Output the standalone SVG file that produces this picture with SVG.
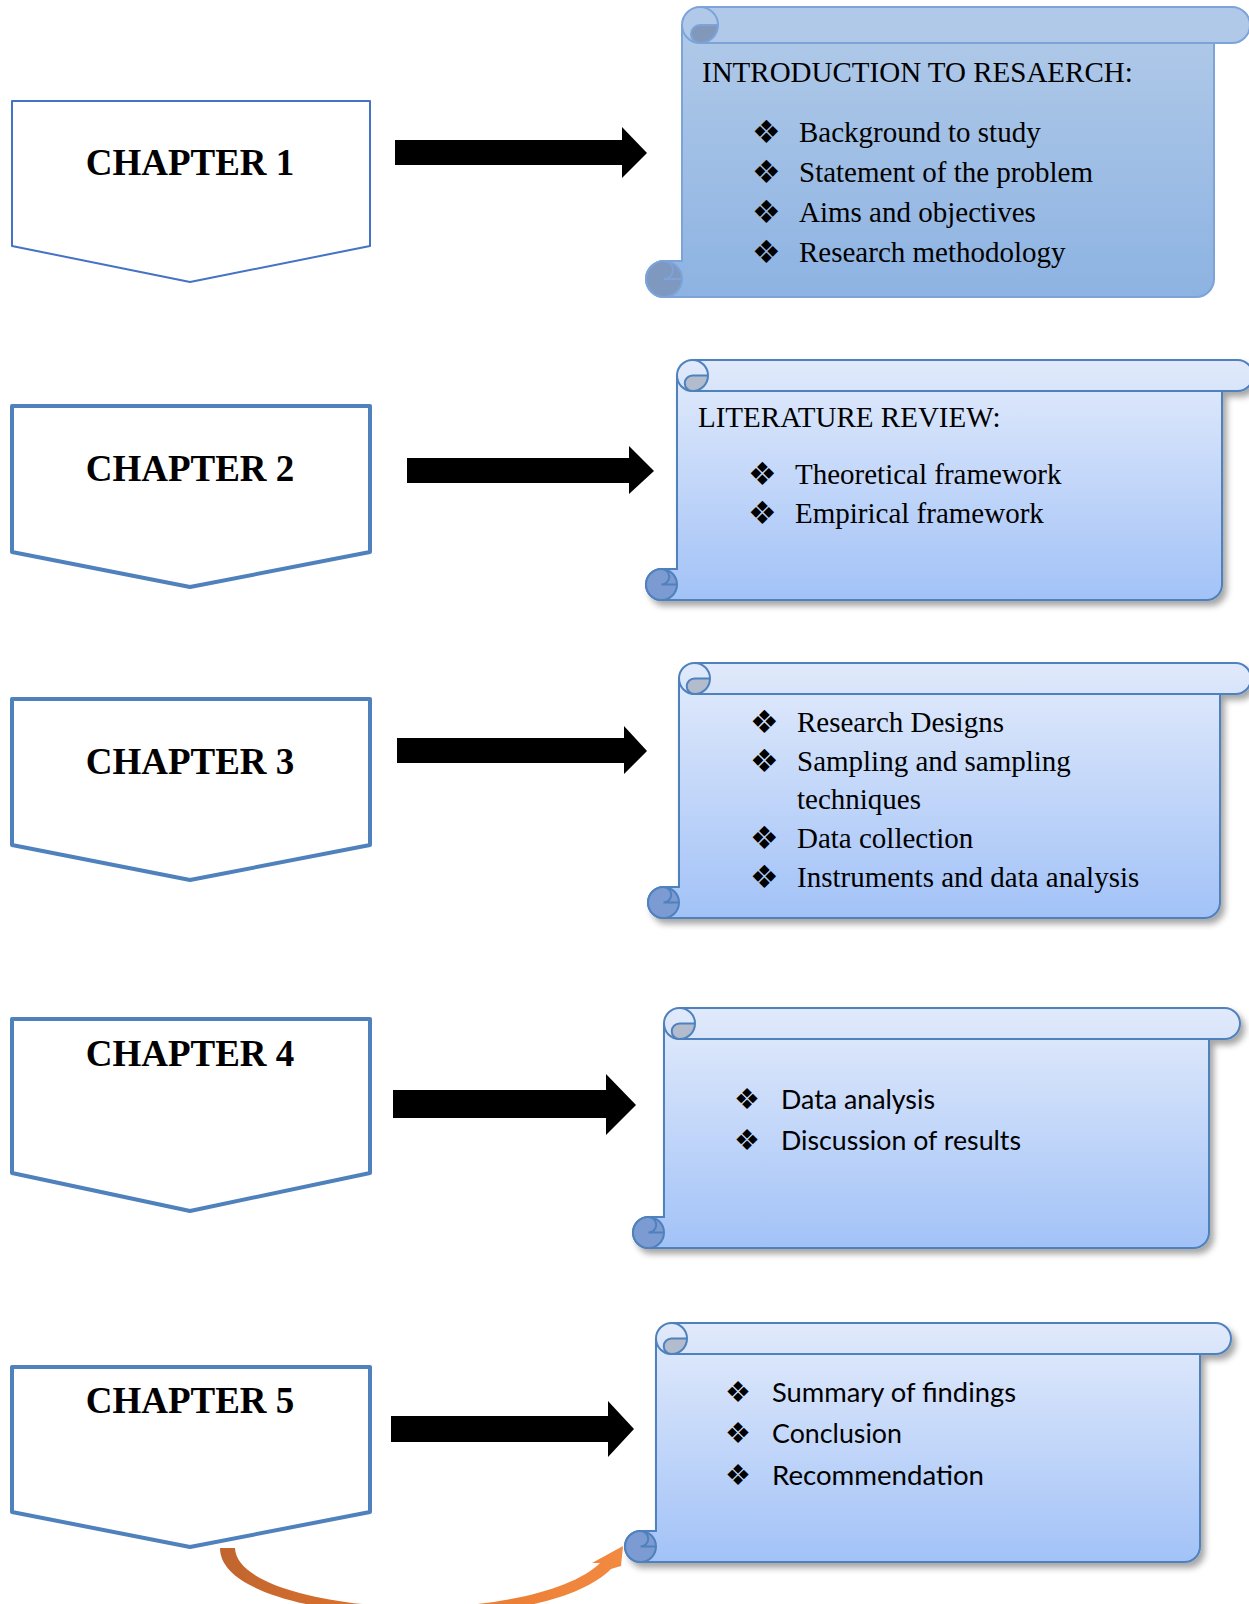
<svg xmlns="http://www.w3.org/2000/svg" width="1249" height="1604" viewBox="0 0 1249 1604">
<defs>
<style>
.ch{fill:#fff;stroke:#4F81BD;stroke-width:4;stroke-linejoin:round}
.cht{font-family:"Liberation Serif","Times New Roman",serif;font-weight:bold;font-size:37px;fill:#000;text-anchor:middle}
.st{font-family:"Liberation Serif","Times New Roman",serif;font-size:29px;fill:#000}
.ct{font-family:Lato,"Open Sans",sans-serif;font-size:26.5px;fill:#000}
.bl{font-family:"DejaVu Sans",sans-serif;font-size:32px;fill:#000}
.arr{fill:#000}
.body{fill:url(#gBody);stroke:#4F81BD;stroke-width:2}
.roll{fill:url(#gRoll);stroke:#4F81BD;stroke-width:2}
.broll{fill:#7C9BD2;stroke:#4F81BD;stroke-width:2}
.curlf{fill:#B3BCCC;stroke:none}
.curl{fill:none;stroke:#4F81BD;stroke-width:2}
.body1{fill:url(#gBody1);stroke:#7DA3D9;stroke-width:2}
.roll1{fill:#B1C9E8;stroke:#7DA3D9;stroke-width:2}
.broll1{fill:#7E98C0;stroke:#7DA3D9;stroke-width:2}
.curlf1{fill:#8298BA;stroke:none}
.curl1{fill:none;stroke:#7DA3D9;stroke-width:2}
</style>
<linearGradient id="gBody" x1="0" y1="0" x2="0" y2="1">
<stop offset="0" stop-color="#DFE9FB"/>
<stop offset="1" stop-color="#A2C2F7"/>
</linearGradient>
<linearGradient id="gRoll" x1="0" y1="0" x2="0" y2="1">
<stop offset="0" stop-color="#E1EAFB"/>
<stop offset="1" stop-color="#D8E4FA"/>
</linearGradient>
<linearGradient id="gBody1" x1="0" y1="0" x2="0" y2="1">
<stop offset="0" stop-color="#B0C9E8"/>
<stop offset="1" stop-color="#8DB3E2"/>
</linearGradient>
<linearGradient id="gOrange" gradientUnits="userSpaceOnUse" x1="220" y1="0" x2="623" y2="0">
<stop offset="0" stop-color="#C0652F"/>
<stop offset="0.5" stop-color="#E6762C"/>
<stop offset="1" stop-color="#F38A42"/>
</linearGradient>
<filter id="sh" x="-5%" y="-5%" width="115%" height="120%">
<feDropShadow dx="4" dy="5" stdDeviation="3" flood-color="#000" flood-opacity="0.35"/>
</filter>
</defs>
<rect width="1249" height="1604" fill="#fff"/>

<g id="chapter1">
<polygon points="12,101 370,101 370,246 190,282 12,246" class="ch" style="stroke:#4472C4;stroke-width:2"/>
<text x="190" y="175" class="cht">CHAPTER 1</text>
</g>
<g id="chapter2">
<polygon points="12,406 370,406 370,552 190,587 12,552" class="ch"/>
<text x="190" y="481" class="cht">CHAPTER 2</text>
</g>
<g id="chapter3">
<polygon points="12,699 370,699 370,845 190,880 12,845" class="ch"/>
<text x="190" y="774" class="cht">CHAPTER 3</text>
</g>
<g id="chapter4">
<polygon points="12,1019 370,1019 370,1173 190,1211 12,1173" class="ch"/>
<text x="190" y="1066" class="cht">CHAPTER 4</text>
</g>
<g id="chapter5">
<polygon points="12,1367 370,1367 370,1512 190,1547 12,1512" class="ch"/>
<text x="190" y="1413" class="cht">CHAPTER 5</text>
</g>

<g id="scroll1">
<path class="body1" d="M 682 25 L 1214 25 L 1214 279 A 18 18 0 0 1 1196 297 L 664 297 A 18 18 0 0 1 664 261 L 682 261 Z"/>
<path class="roll1" d="M 700 7 L 1232 7 A 18 18 0 0 1 1232 43 L 700 43 A 18 18 0 0 1 700 7 Z"/>
<path class="curlf1" d="M 718 25 A 18 18 0 0 1 700 43 A 9 9 0 0 1 700 25 Z"/>
<path class="curl1" d="M 700 7 A 18 18 0 0 1 718 25 A 18 18 0 0 1 700 43 A 9 9 0 0 1 700 25 L 718 25"/>
<circle class="broll1" cx="664" cy="279" r="18"/>
<path class="curl1" d="M 664 261 A 9 9 0 0 1 664 279 L 682 279"/>
<text x="702" y="82" class="st">INTRODUCTION TO RESAERCH:</text>
<text x="752" y="143" class="bl">❖</text><text x="799" y="142" class="st">Background to study</text>
<text x="752" y="183" class="bl">❖</text><text x="799" y="182" class="st">Statement of the problem</text>
<text x="752" y="223" class="bl">❖</text><text x="799" y="222" class="st">Aims and objectives</text>
<text x="752" y="263" class="bl">❖</text><text x="799" y="262" class="st">Research methodology</text>
</g>

<g id="scroll2">
<g filter="url(#sh)">
<path class="body" d="M 677 375.5 L 1222 375.5 L 1222 584.5 A 15.5 15.5 0 0 1 1206.5 600 L 661.5 600 A 15.5 15.5 0 0 1 661.5 569 L 677 569 Z"/>
<path class="roll" d="M 692.5 360 L 1237.5 360 A 15.5 15.5 0 0 1 1237.5 391 L 692.5 391 A 15.5 15.5 0 0 1 692.5 360 Z"/>
<circle class="broll" cx="661.5" cy="584.5" r="15.5"/>
</g>
<path class="curlf" d="M 708 375.5 A 15.5 15.5 0 0 1 692.5 391 A 7.75 7.75 0 0 1 692.5 375.5 Z"/>
<path class="curl" d="M 692.5 360 A 15.5 15.5 0 0 1 708 375.5 A 15.5 15.5 0 0 1 692.5 391 A 7.75 7.75 0 0 1 692.5 375.5 L 708 375.5"/>
<path class="curl" d="M 661.5 569 A 7.75 7.75 0 0 1 661.5 584.5 L 677 584.5"/>
<text x="698" y="427" class="st">LITERATURE REVIEW:</text>
<text x="748" y="485" class="bl">❖</text><text x="795" y="484" class="st">Theoretical framework</text>
<text x="748" y="524" class="bl">❖</text><text x="795" y="523" class="st">Empirical framework</text>
</g>

<g id="scroll3">
<g filter="url(#sh)">
<path class="body" d="M 679 678.5 L 1220 678.5 L 1220 902.5 A 15.5 15.5 0 0 1 1204.5 918 L 663.5 918 A 15.5 15.5 0 0 1 663.5 887 L 679 887 Z"/>
<path class="roll" d="M 694.5 663 L 1235.5 663 A 15.5 15.5 0 0 1 1235.5 694 L 694.5 694 A 15.5 15.5 0 0 1 694.5 663 Z"/>
<circle class="broll" cx="663.5" cy="902.5" r="15.5"/>
</g>
<path class="curlf" d="M 710 678.5 A 15.5 15.5 0 0 1 694.5 694 A 7.75 7.75 0 0 1 694.5 678.5 Z"/>
<path class="curl" d="M 694.5 663 A 15.5 15.5 0 0 1 710 678.5 A 15.5 15.5 0 0 1 694.5 694 A 7.75 7.75 0 0 1 694.5 678.5 L 710 678.5"/>
<path class="curl" d="M 663.5 887 A 7.75 7.75 0 0 1 663.5 902.5 L 679 902.5"/>
<text x="750" y="733" class="bl">❖</text><text x="797" y="732" class="st">Research Designs</text>
<text x="750" y="772" class="bl">❖</text><text x="797" y="771" class="st">Sampling and sampling</text>
<text x="797" y="809" class="st">techniques</text>
<text x="750" y="849" class="bl">❖</text><text x="797" y="848" class="st">Data collection</text>
<text x="750" y="888" class="bl">❖</text><text x="797" y="887" class="st">Instruments and data analysis</text>
</g>

<g id="scroll4">
<g filter="url(#sh)">
<path class="body" d="M 664 1023.5 L 1209 1023.5 L 1209 1232.5 A 15.5 15.5 0 0 1 1193.5 1248 L 648.5 1248 A 15.5 15.5 0 0 1 648.5 1217 L 664 1217 Z"/>
<path class="roll" d="M 679.5 1008 L 1224.5 1008 A 15.5 15.5 0 0 1 1224.5 1039 L 679.5 1039 A 15.5 15.5 0 0 1 679.5 1008 Z"/>
<circle class="broll" cx="648.5" cy="1232.5" r="15.5"/>
</g>
<path class="curlf" d="M 695 1023.5 A 15.5 15.5 0 0 1 679.5 1039 A 7.75 7.75 0 0 1 679.5 1023.5 Z"/>
<path class="curl" d="M 679.5 1008 A 15.5 15.5 0 0 1 695 1023.5 A 15.5 15.5 0 0 1 679.5 1039 A 7.75 7.75 0 0 1 679.5 1023.5 L 695 1023.5"/>
<path class="curl" d="M 648.5 1217 A 7.75 7.75 0 0 1 648.5 1232.5 L 664 1232.5"/>
<text x="734" y="1109" class="bl" style="font-size:29px">❖</text><text x="781" y="1109" class="ct" textLength="154" lengthAdjust="spacingAndGlyphs">Data analysis</text>
<text x="734" y="1150" class="bl" style="font-size:29px">❖</text><text x="781" y="1150" class="ct" textLength="240" lengthAdjust="spacingAndGlyphs">Discussion of results</text>
</g>

<g id="scroll5">
<g filter="url(#sh)">
<path class="body" d="M 656 1338.5 L 1200 1338.5 L 1200 1546.5 A 15.5 15.5 0 0 1 1184.5 1562 L 640.5 1562 A 15.5 15.5 0 0 1 640.5 1531 L 656 1531 Z"/>
<path class="roll" d="M 671.5 1323 L 1215.5 1323 A 15.5 15.5 0 0 1 1215.5 1354 L 671.5 1354 A 15.5 15.5 0 0 1 671.5 1323 Z"/>
<circle class="broll" cx="640.5" cy="1546.5" r="15.5"/>
</g>
<path class="curlf" d="M 687 1338.5 A 15.5 15.5 0 0 1 671.5 1354 A 7.75 7.75 0 0 1 671.5 1338.5 Z"/>
<path class="curl" d="M 671.5 1323 A 15.5 15.5 0 0 1 687 1338.5 A 15.5 15.5 0 0 1 671.5 1354 A 7.75 7.75 0 0 1 671.5 1338.5 L 687 1338.5"/>
<path class="curl" d="M 640.5 1531 A 7.75 7.75 0 0 1 640.5 1546.5 L 656 1546.5"/>
<text x="725" y="1402" class="bl" style="font-size:29px">❖</text><text x="772" y="1402" class="ct" textLength="244" lengthAdjust="spacingAndGlyphs">Summary of findings</text>
<text x="725" y="1443" class="bl" style="font-size:29px">❖</text><text x="772" y="1443" class="ct" textLength="130" lengthAdjust="spacingAndGlyphs">Conclusion</text>
<text x="725" y="1485" class="bl" style="font-size:29px">❖</text><text x="772" y="1485" class="ct" textLength="212" lengthAdjust="spacingAndGlyphs">Recommendation</text>
</g>

<g id="connectors">
<polygon class="arr" points="395,140 622,140 622,127 647,153 622,178 622,165 395,165"/>
<polygon class="arr" points="407,458 629,458 629,446 654,471 629,494 629,483 407,483"/>
<polygon class="arr" points="397,738 624,738 624,726 647,751 624,774 624,763 397,763"/>
<polygon class="arr" points="393,1090 606,1090 606,1074 636,1105 606,1135 606,1118 393,1118"/>
<polygon class="arr" points="391,1416 608,1416 608,1401 634,1429 608,1457 608,1442 391,1442"/>
<path fill="url(#gOrange)" d="M 220 1548 L 235 1548 C 236 1585 330 1607 420 1607 C 505 1607 575 1588 600 1563 L 592 1563 L 623 1546 L 621 1566 L 611 1569 C 580 1600 505 1615 420 1615 C 320 1615 220 1592 220 1548 Z"/>
</g>
</svg>
